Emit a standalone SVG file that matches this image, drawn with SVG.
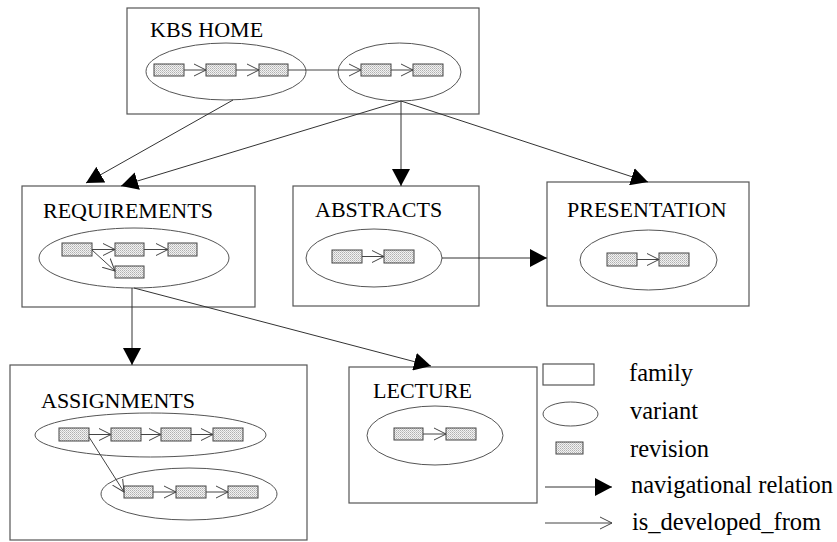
<svg xmlns="http://www.w3.org/2000/svg" width="837" height="542" viewBox="0 0 837 542">
<defs>
<pattern id="dots" width="2" height="2" patternUnits="userSpaceOnUse">
<rect width="2" height="2" fill="#f2f2f2"/>
<rect width="1" height="1" fill="#b0b0b0"/>
<rect x="1" y="1" width="1" height="1" fill="#c8c8c8"/>
</pattern>
<marker id="nav" markerUnits="userSpaceOnUse" markerWidth="18" markerHeight="18" refX="17" refY="9" orient="auto" viewBox="0 0 18 18">
<path d="M0,0 L17,9 L0,18 Z" fill="#000"/>
</marker>
<marker id="dev" markerUnits="userSpaceOnUse" markerWidth="14" markerHeight="14" refX="12" refY="7" orient="auto" viewBox="0 0 14 14">
<path d="M0,1 L12,7 L0,13" fill="none" stroke="#444" stroke-width="1"/>
</marker>
</defs>
<style>
.fam{fill:#fff;stroke:#555;stroke-width:1.2}
.var{fill:none;stroke:#555;stroke-width:1}
.rev{fill:url(#dots);stroke:#444;stroke-width:1}
.title{font-family:"Liberation Serif","Times New Roman",serif;font-size:22px;fill:#000}
.leg{font-family:"Liberation Serif","Times New Roman",serif;font-size:24.5px;fill:#000}
.nav{stroke:#333;stroke-width:1;fill:none;marker-end:url(#nav)}
.dev{stroke:#444;stroke-width:1;fill:none;marker-end:url(#dev)}
</style>
<rect width="837" height="542" fill="#fff"/>

<g id="kbs-home">
<rect class="fam" x="127" y="8" width="352" height="106"/>
<text class="title" x="150" y="37">KBS HOME</text>
<ellipse class="var" cx="226" cy="71.5" rx="80" ry="28.5"/>
<ellipse class="var" cx="399.5" cy="72" rx="61.5" ry="29"/>
<rect class="rev" x="154" y="64" width="30" height="12"/>
<rect class="rev" x="206" y="64" width="30" height="12"/>
<rect class="rev" x="259" y="64" width="29" height="12"/>
<rect class="rev" x="361" y="64" width="30" height="12"/>
<rect class="rev" x="413" y="64" width="30" height="12"/>
</g>

<g id="requirements">
<rect class="fam" x="22" y="186" width="233" height="121"/>
<text class="title" x="43" y="218">REQUIREMENTS</text>
<ellipse class="var" cx="134" cy="258" rx="95" ry="30"/>
<rect class="rev" x="62" y="243" width="30" height="13"/>
<rect class="rev" x="115" y="243" width="29" height="13"/>
<rect class="rev" x="168" y="243" width="29" height="13"/>
<rect class="rev" x="115" y="266" width="29" height="12"/>
</g>

<g id="abstracts">
<rect class="fam" x="293" y="186" width="186" height="120"/>
<text class="title" x="315" y="217">ABSTRACTS</text>
<ellipse class="var" cx="374" cy="258" rx="68" ry="29"/>
<rect class="rev" x="332" y="250" width="30" height="13"/>
<rect class="rev" x="384" y="250" width="30" height="13"/>
</g>

<g id="presentation">
<rect class="fam" x="547" y="182" width="202" height="124"/>
<text class="title" x="567" y="217">PRESENTATION</text>
<ellipse class="var" cx="648.5" cy="260" rx="68.5" ry="30"/>
<rect class="rev" x="607" y="253" width="30" height="13"/>
<rect class="rev" x="659" y="253" width="30" height="13"/>
</g>

<g id="assignments">
<rect class="fam" x="10" y="365" width="297" height="175"/>
<text class="title" x="41" y="408">ASSIGNMENTS</text>
<ellipse class="var" cx="150.5" cy="435" rx="115.5" ry="22"/>
<ellipse class="var" cx="189" cy="494" rx="88" ry="26"/>
<rect class="rev" x="59" y="428" width="30" height="13"/>
<rect class="rev" x="111" y="428" width="30" height="13"/>
<rect class="rev" x="161" y="428" width="30" height="13"/>
<rect class="rev" x="213" y="428" width="30" height="13"/>
<rect class="rev" x="124" y="486" width="29" height="12"/>
<rect class="rev" x="176" y="486" width="30" height="12"/>
<rect class="rev" x="228" y="486" width="30" height="12"/>
</g>

<g id="lecture">
<rect class="fam" x="349" y="367" width="188" height="136"/>
<text class="title" x="373" y="398">LECTURE</text>
<ellipse class="var" cx="435" cy="435.5" rx="68" ry="29.5"/>
<rect class="rev" x="394" y="428" width="29" height="12"/>
<rect class="rev" x="446" y="428" width="30" height="12"/>
</g>

<g id="connectors">
<line class="nav" x1="233" y1="100" x2="86" y2="183"/>
<line class="nav" x1="401" y1="101" x2="121" y2="186"/>
<line class="nav" x1="401" y1="101" x2="401" y2="186"/>
<line class="nav" x1="401" y1="101" x2="648" y2="182"/>
<line class="nav" x1="442" y1="258" x2="547" y2="258"/>
<line class="nav" x1="132" y1="288" x2="132" y2="365"/>
<line class="nav" x1="134" y1="288" x2="431" y2="366"/>

<line class="dev" x1="184" y1="70" x2="206" y2="70"/>
<line class="dev" x1="236" y1="70" x2="259" y2="70"/>
<line class="dev" x1="288" y1="70" x2="361" y2="70"/>
<line class="dev" x1="391" y1="70" x2="413" y2="70"/>

<line class="dev" x1="92" y1="249.5" x2="115" y2="249.5"/>
<line class="dev" x1="144" y1="249.5" x2="168" y2="249.5"/>
<line class="dev" x1="92" y1="250" x2="115" y2="271"/>

<line class="dev" x1="362" y1="256.5" x2="384" y2="256.5"/>
<line class="dev" x1="637" y1="259.5" x2="659" y2="259.5"/>
<line class="dev" x1="423" y1="434" x2="446" y2="434"/>

<line class="dev" x1="89" y1="434.5" x2="111" y2="434.5"/>
<line class="dev" x1="141" y1="434.5" x2="161" y2="434.5"/>
<line class="dev" x1="191" y1="434.5" x2="213" y2="434.5"/>
<line class="dev" x1="153" y1="492" x2="176" y2="492"/>
<line class="dev" x1="206" y1="492" x2="228" y2="492"/>
<line class="dev" x1="89" y1="437" x2="124" y2="492"/>
</g>

<g id="legend">
<rect class="fam" x="543" y="364" width="51" height="21"/>
<text class="leg" x="629" y="381">family</text>
<ellipse class="var" cx="570.5" cy="414" rx="27.5" ry="12"/>
<text class="leg" x="630" y="419">variant</text>
<rect class="rev" x="556" y="442" width="27" height="12"/>
<text class="leg" x="630" y="457">revision</text>
<line class="nav" x1="545" y1="487" x2="612" y2="487"/>
<text class="leg" x="631" y="493">navigational relation</text>
<line class="dev" x1="545" y1="523" x2="612" y2="523"/>
<text class="leg" x="632" y="530">is_developed_from</text>
</g>
</svg>
